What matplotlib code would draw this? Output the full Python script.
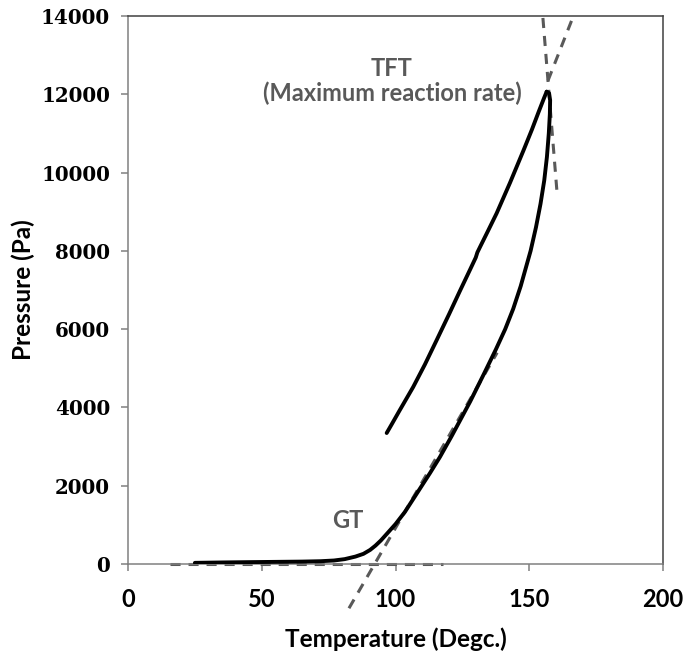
import matplotlib
matplotlib.use("Agg")
import matplotlib.pyplot as plt

# heating run (lower branch)
heat_t = [25, 35, 45, 55, 65, 72, 77, 81, 85, 88, 90.5, 92.5, 94.5, 97, 100, 103.5,
          107, 112.9, 116.6, 121, 127.9, 133, 137.5, 141, 144, 146.8, 150.5, 152.5,
          154.2, 155.6, 156.6, 157.3, 157.7, 157.8, 157.4, 156.5]
heat_p = [30, 40, 48, 55, 62, 72, 90, 125, 190, 260, 360, 470, 600, 790, 1020, 1330,
          1700, 2325, 2734, 3270, 4150, 4850, 5480, 6000, 6520, 7100, 8000, 8600,
          9200, 9800, 10400, 11000, 11500, 11850, 12030, 12067]

# cooling run (upper branch)
cool_t = [156.5, 155.5, 153.5, 151, 147.8, 142.8, 137.8, 134.5, 131.6, 130.6, 130,
          128, 124.1, 120, 115.4, 111, 106.6, 101.5, 98.5, 96.7]
cool_p = [12067, 11900, 11550, 11100, 10560, 9740, 8960, 8500, 8100, 7960, 7830,
          7540, 6980, 6380, 5723, 5100, 4522, 3920, 3560, 3347]

# construction lines
base_t, base_p = [15.7, 117.8], [0, 0]
gt_t, gt_p = [82.6, 138], [-1130, 5400]
tft1_t, tft1_p = [155.1, 160.3], [13950, 9560]
tft2_t, tft2_p = [157, 166.5], [12350, 14000]

fig = plt.figure(figsize=(6.86, 6.51), dpi=100)
ax = fig.add_axes([0.1866, 0.1336, 0.7799, 0.8418])

dash_kw = dict(color="#595959", lw=2.2, dashes=(3.3, 2.6), clip_on=False, zorder=2)
ax.plot(base_t, base_p, **dash_kw)
ax.plot(gt_t, gt_p, **dash_kw)
ax.plot(tft1_t, tft1_p, **dash_kw)
ax.plot(tft2_t, tft2_p, **dash_kw)

ax.plot(heat_t, heat_p, color="black", lw=2.8, solid_capstyle="round",
        solid_joinstyle="round", zorder=3)
ax.plot(cool_t, cool_p, color="black", lw=2.8, solid_capstyle="round",
        solid_joinstyle="round", zorder=3)

ax.set_xlim(0, 200)
ax.set_ylim(0, 14000)
ax.set_xticks([0, 50, 100, 150, 200])
ax.set_yticks(range(0, 14001, 2000))

for s in ["left", "bottom"]:
    ax.spines[s].set_color("#808080")
    ax.spines[s].set_linewidth(1.1)
for s in ["top", "right"]:
    ax.spines[s].set_color("#404040")
    ax.spines[s].set_linewidth(1.1)

ax.tick_params(axis="both", direction="out", length=5, width=1.1, color="#808080")
ax.tick_params(axis="y", pad=8)
ax.tick_params(axis="x", pad=12)
for lab in ax.get_yticklabels():
    lab.set_fontfamily("DejaVu Serif")
    lab.set_fontweight("bold")
    lab.set_fontsize(14.3)
for lab in ax.get_xticklabels():
    lab.set_fontfamily("Lato")
    lab.set_fontweight("bold")
    lab.set_fontsize(17)

ax.set_xlabel("Temperature (Degc.)", family="Lato", weight="bold", fontsize=17.5, labelpad=12)
ax.set_ylabel("Pressure (Pa)", family="Lato", weight="bold", fontsize=17.5, labelpad=4)

ax.text(98.7, 12670, "TFT", family="Lato", weight="bold", fontsize=17,
        color="#595959", ha="center", va="center")
ax.text(98.7, 12030, "(Maximum reaction rate)", family="Lato", weight="bold", fontsize=17,
        color="#595959", ha="center", va="center")
ax.text(82.3, 1124, "GT", family="Lato", weight="bold", fontsize=17,
        color="#595959", ha="center", va="center")

fig.savefig("out.png", dpi=100)
